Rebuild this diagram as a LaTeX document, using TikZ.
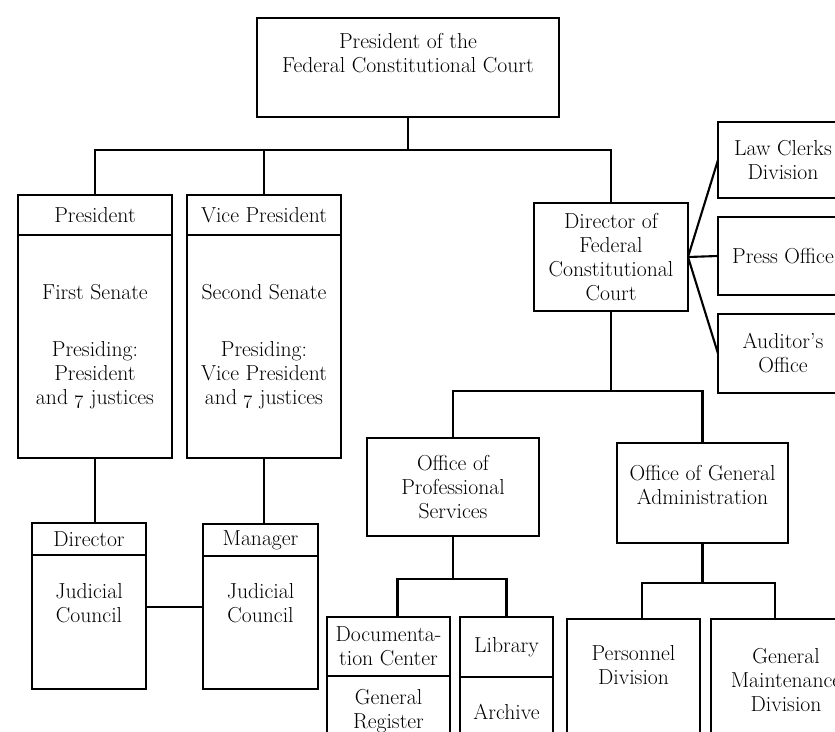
\documentclass[tikz,border=0pt]{standalone}
\usepackage{tikz}
\usetikzlibrary{positioning}
\tikzset{
	frame/.style    ={rectangle, draw=black, line width=2.4pt, align=center, inner sep=2pt, outer sep=0pt},
	sz/.style 2 args={minimum width=#1*0.03cm, minimum height=#2*0.03cm},
	txt/.style      ={align=center, inner sep=0pt},
	link/.style     ={line width=1.8pt},
}
\begin{document}
\begin{tikzpicture}[x=0.03cm, y=-0.03cm, font=\fontsize{18.5}{20.5}\selectfont]
	\useasboundingbox (0,0) rectangle (835,732);
	\clip (0,0) rectangle (835,732);
	% top of the court
	\node[frame, sz={302}{99}] (top) at (408,67.5) {};
	\node[txt] (topTx) at (408,53) {President of the\\Federal Constitutional Court};
	% the two senates
	\node[frame, sz={154}{40}] (presHd) at (95,215) {President};
	\node[frame, sz={154}{223}, below=0pt of presHd] (presBd) {First Senate\\[28pt]Presiding:\\President\\and \oldstylenums{7} justices};
	\node[frame, sz={154}{40}] (vpHd) at (264,215) {Vice President};
	\node[frame, sz={154}{223}, below=0pt of vpHd] (vpBd) {Second Senate\\[28pt]Presiding:\\Vice President\\and \oldstylenums{7} justices};
	\node[frame, sz={114}{32}] (dirHd) at (89,539) {Director};
	\node[frame, sz={114}{134}, below=0pt of dirHd] (dirBd) {};
	\node[txt] (dirTx) at (89,603) {Judicial\\Council};
	\node[frame, sz={115}{32}] (manHd) at (260.5,540) {Manager};
	\node[frame, sz={115}{133}, below=0pt of manHd] (manBd) {};
	\node[txt] (manTx) at (260.5,603) {Judicial\\Council};
	% administration
	\node[frame, sz={154}{108}] (dirFCC) at (611,257) {Director of\\Federal\\Constitutional\\Court};
	\node[frame, sz={130}{76}] (lawc) at (783,160) {Law Clerks\\Division};
	\node[frame, sz={130}{78}] (press) at (783,256) {Press Office};
	\node[frame, sz={130}{79}] (aud) at (783,353.5) {Auditor's\\Office};
	\node[frame, sz={172}{98}] (ops) at (453,487) {Office of\\Professional\\Services};
	\node[frame, sz={171}{100}] (oga) at (702.5,493) {};
	\node[txt] (ogaTx) at (702.5,485) {Office of General\\Administration};
	\node[frame, sz={123}{59}] (docA) at (388.5,646.5) {Documenta-\\tion Center};
	\node[frame, sz={123}{70}, below=0pt of docA] (docB) {General\\Register};
	\node[frame, sz={93}{60}] (libA) at (506.5,647) {Library};
	\node[frame, sz={93}{69}, below=0pt of libA] (libB) {Archive};
	\node[frame, sz={133}{131}] (pers) at (633.5,684.5) {};
	\node[txt] (persTx) at (633.5,665) {Personnel\\Division};
	\node[frame, sz={164}{131}] (gmd) at (793,684.5) {};
	\node[txt] (gmdTx) at (786,680) {General\\Maintenance\\Division};
	% connectors
	\coordinate (b1) at (411,150);
	\coordinate (b2) at (613,391);
	\coordinate (b3) at (455,579);
	\coordinate (b4) at (708,583);
	\draw[link] (top.south) -- (top.south |- b1);
	\draw[link] (presHd.north) |- (b1) -| (dirFCC.north);
	\draw[link] (vpHd.north) -- (vpHd.north |- b1);
	\draw[link] (presBd.south) -- (presBd.south |- dirHd.north);
	\draw[link] (vpBd.south) -- (vpBd.south |- manHd.north);
	\draw[link] ([yshift=0.45cm]dirBd.east) -- ([yshift=0.45cm]dirBd.east -| manBd.west);
	\draw[link] (dirFCC.east) -- (lawc.west);
	\draw[link] (dirFCC.east) -- (press.west);
	\draw[link] (dirFCC.east) -- (aud.west);
	\draw[link] (dirFCC.south) -- (dirFCC.south |- b2);
	\draw[link] (ops.north) |- (b2) -| (oga.north);
	\draw[link] (ops.south) -- (ops.south |- b3);
	\draw[link] ([xshift=0.27cm]docA.north) |- (b3) -| (libA.north);
	\draw[link] (oga.south) -- (oga.south |- b4);
	\draw[link] ([xshift=0.255cm]pers.north) |- (b4) -| ([xshift=-0.54cm]gmd.north);
\end{tikzpicture}
\end{document}
